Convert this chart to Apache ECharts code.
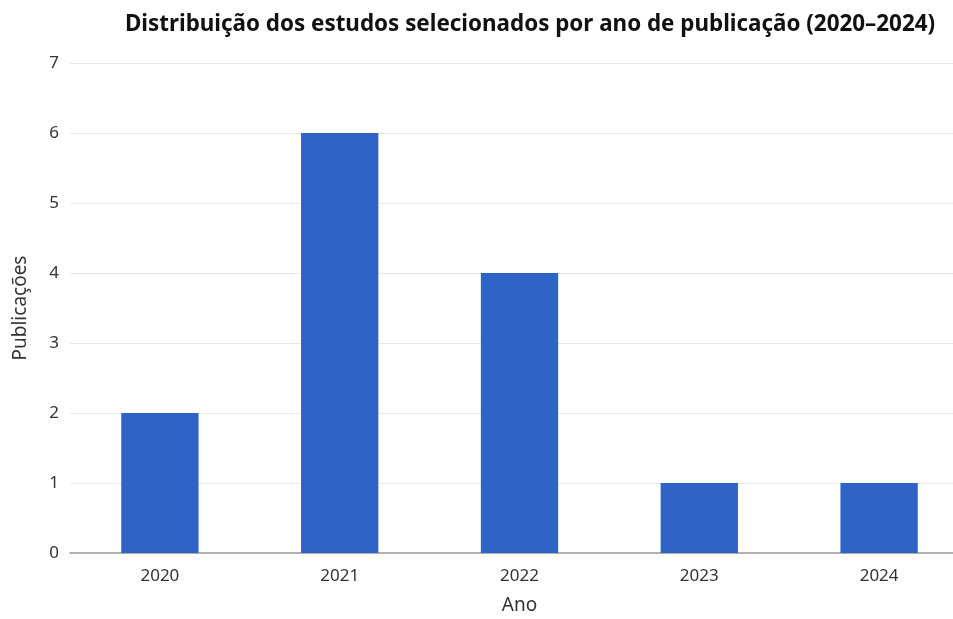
<!DOCTYPE html>
<html>
<head>
<meta charset="utf-8">
<script src="https://cdn.jsdelivr.net/npm/echarts@6/dist/echarts.min.js"></script>
<style>
  html, body { margin: 0; padding: 0; background: #fff; }
  #chart { width: 953px; height: 619px; }
</style>
</head>
<body>
<div id="chart"></div>
<script>
var anos = ['2020', '2021', '2022', '2023', '2024'];
var publicacoes = [2, 6, 4, 1, 1];

var myChart = echarts.init(document.getElementById('chart'));
var option = {
    backgroundColor: '#ffffff',
    textStyle: { fontFamily: 'Noto Sans' },
    title: {
        text: 'Distribuição dos estudos selecionados por ano de publicação (2020–2024)',
        left: 525,
        textAlign: 'center',
        top: 9,
        textStyle: { fontSize: 22.4, fontWeight: 'bold', color: '#111', fontFamily: 'Noto Sans' }
    },
    grid: { left: 70, right: -16, top: 63, bottom: 66, outerBoundsMode: 'none' },
    xAxis: {
        type: 'category',
        data: anos,
        name: 'Ano',
        nameLocation: 'middle',
        nameGap: 43,
        nameTextStyle: { fontSize: 19, color: '#333' },
        axisLine: { lineStyle: { color: '#999', width: 1.5 } },
        axisTick: { show: false },
        axisLabel: { fontSize: 17, color: '#333', margin: 15 }
    },
    yAxis: {
        type: 'value',
        min: 0,
        max: 7,
        interval: 1,
        name: 'Publicações',
        nameLocation: 'middle',
        nameGap: 40,
        nameTextStyle: { fontSize: 19, color: '#333' },
        axisLine: { show: false },
        axisTick: { show: false },
        axisLabel: { fontSize: 17, color: '#333', margin: 11 },
        splitLine: { lineStyle: { color: '#e8e8e8' } }
    },
    series: [{
        name: 'Publicações',
        type: 'bar',
        data: publicacoes,
        barWidth: '43%',
        itemStyle: { color: '#3063c6' }
    }]
};
myChart.setOption(option);
</script>
</body>
</html>
